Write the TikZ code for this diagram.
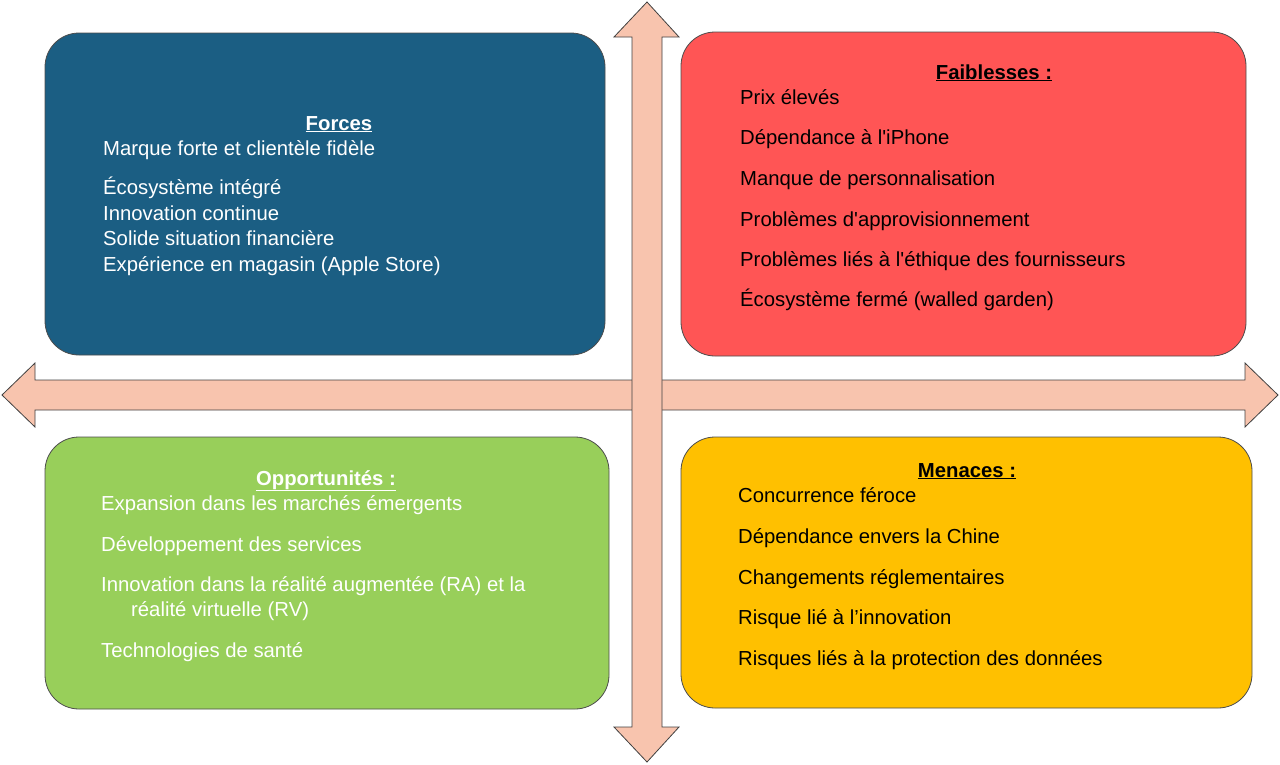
\documentclass[tikz,border=0pt]{standalone}
\usepackage{fontspec}
\setmainfont{Liberation Sans}
\newcommand{\ulabel}[1]{\underline{#1}}
\newcommand{\aps}{\textquotesingle}
\definecolor{forcesblue}{HTML}{1B5E83}
\definecolor{faibred}{HTML}{FF5555}
\definecolor{oppgreen}{HTML}{98CF5A}
\definecolor{menyellow}{HTML}{FFC000}
\definecolor{arrowfill}{HTML}{F8C4AE}
\tikzset{
  quad/.style={draw=black!70, line width=0.8pt, rounded corners=34pt},
  item/.style={anchor=base west, inner sep=0pt, font=\fontsize{20.3}{24}\selectfont},
  head/.style={anchor=base, inner sep=0pt, font=\fontsize{20.3}{24}\selectfont\bfseries},
  bigarrow/.style={draw=black!75, line width=0.8pt, fill=arrowfill}
}
\begin{document}
\begin{tikzpicture}[x=1pt,y=-1pt]
    \useasboundingbox (0,0) rectangle (1280,764);
    % quadrants
    \draw[quad, fill=forcesblue] (45,33) rectangle (605,355);
    \draw[quad, fill=faibred] (681,32) rectangle (1246,356);
    \draw[quad, fill=oppgreen] (45,437) rectangle (609,709);
    \draw[quad, fill=menyellow] (681,437) rectangle (1252,708);
    % arrows
    \draw[bigarrow] (2,395) -- (35,363) -- (35,380) -- (1245,380) -- (1245,363)
        -- (1278,395) -- (1245,427) -- (1245,410) -- (35,410) -- (35,427) -- cycle;
    \draw[bigarrow] (647,2) -- (679,37) -- (662,37) -- (662,727) -- (679,727)
        -- (647,762) -- (614,727) -- (632,727) -- (632,37) -- (614,37) -- cycle;
    % forces
    \node[head, text=white] (ft) at (339,130) {\ulabel{Forces}};
    \node[item, text=white] (f1) at (103,155) {Marque forte et clientèle fidèle};
    \node[item, text=white] (f2) at (103,194) {Écosystème intégré};
    \node[item, text=white] (f3) at (103,220) {Innovation continue};
    \node[item, text=white] (f4) at (103,245) {Solide situation financière};
    \node[item, text=white] (f5) at (103,271) {Expérience en magasin (Apple Store)};
    % faiblesses
    \node[head] (wt) at (994,79) {\ulabel{Faiblesses :}};
    \node[item] (w1) at (740,104) {Prix élevés};
    \node[item] (w2) at (740,144) {Dépendance à l\aps iPhone};
    \node[item] (w3) at (740,185) {Manque de personnalisation};
    \node[item] (w4) at (740,226) {Problèmes d\aps approvisionnement};
    \node[item] (w5) at (740,266) {Problèmes liés à l\aps éthique des fournisseurs};
    \node[item] (w6) at (740,306) {Écosystème fermé (walled garden)};
    % opportunites
    \node[head, text=white] (ot) at (326,485) {\ulabel{Opportunités :}};
    \node[item, text=white] (o1) at (101,510) {Expansion dans les marchés émergents};
    \node[item, text=white] (o2) at (101,551) {Développement des services};
    \node[item, text=white] (o3) at (101,591) {Innovation dans la réalité augmentée (RA) et la};
    \node[item, text=white] (o4) at (131,616) {réalité virtuelle (RV)};
    \node[item, text=white] (o5) at (101,657) {Technologies de santé};
    % menaces
    \node[head] (mt) at (967,477) {\ulabel{Menaces :}};
    \node[item] (m1) at (738,502) {Concurrence féroce};
    \node[item] (m2) at (738,543) {Dépendance envers la Chine};
    \node[item] (m3) at (738,584) {Changements réglementaires};
    \node[item] (m4) at (738,624) {Risque lié à l’innovation};
    \node[item] (m5) at (738,665) {Risques liés à la protection des données};
\end{tikzpicture}
\end{document}
